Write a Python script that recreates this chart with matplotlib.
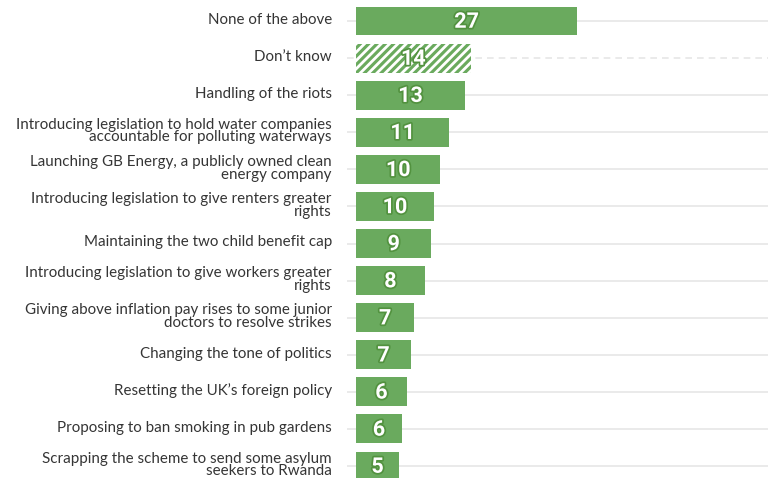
import matplotlib
matplotlib.use('Agg')
import matplotlib.pyplot as plt
import matplotlib.patheffects as pe

# achievements asked about, top to bottom
categorias = [
    'None of the above',
    'Don’t know',
    'Handling of the riots',
    'Introducing legislation to hold water companies\naccountable for polluting waterways',
    'Launching GB Energy, a publicly owned clean\nenergy company',
    'Introducing legislation to give renters greater\nrights',
    'Maintaining the two child benefit cap',
    'Introducing legislation to give workers greater\nrights',
    'Giving above inflation pay rises to some junior\ndoctors to resolve strikes',
    'Changing the tone of politics',
    'Resetting the UK’s foreign policy',
    'Proposing to ban smoking in pub gardens',
    'Scrapping the scheme to send some asylum\nseekers to Rwanda',
]
# bar lengths
valores = [27, 14.0, 13.3, 11.4, 10.3, 9.5, 9.2, 8.4, 7.1, 6.7, 6.2, 5.6, 5.25]
# the rounded numbers printed on the bars
etiquetas = ['27', '14', '13', '11', '10', '10', '9', '8', '7', '7', '6', '6', '5']
rayadas = ['Don’t know']

verde = '#6aaa5e'
verdeOscuro = '#52923f'

plt.rcParams['hatch.linewidth'] = 2.0

fig = plt.figure(figsize=(7.75, 4.78), dpi=100)
ax = fig.add_axes([347 / 775, 0, 421 / 775, 1])

# lineas guia de cada fila
for i, cat in enumerate(categorias):
    estilo = (0, (4, 3)) if cat in rayadas else '-'
    ax.axhline(i, color='#e6e6e6', lw=1.2, ls=estilo, zorder=0)

for i, (cat, v) in enumerate(zip(categorias, valores)):
    if cat in rayadas:
        ax.barh(i, v, height=0.78, color=verde, edgecolor='white', hatch='////', lw=0, zorder=2)
    else:
        ax.barh(i, v, height=0.78, color=verde, lw=0, zorder=2)
    ax.text(v / 2, i + 0.02, etiquetas[i], ha='center', va='center', color='white',
            fontsize=15.5, fontweight='bold', family=['DejaVu Sans Condensed', 'Roboto', 'DejaVu Sans'],
            fontstretch='condensed', zorder=3,
            path_effects=[pe.withStroke(linewidth=2.5, foreground=verdeOscuro)])
    ax.text(-2.95, i - 0.03, cat, ha='right', va='center', color='#353535', fontsize=10.9,
            family=['Lato', 'DejaVu Sans'], linespacing=0.87, clip_on=False)

ax.set_xlim(-1.1, 50.3)
ax.set_ylim(12 + 12 / 37.08, -21 / 37.08)
ax.axis('off')

fig.savefig('out.png', dpi=100)
